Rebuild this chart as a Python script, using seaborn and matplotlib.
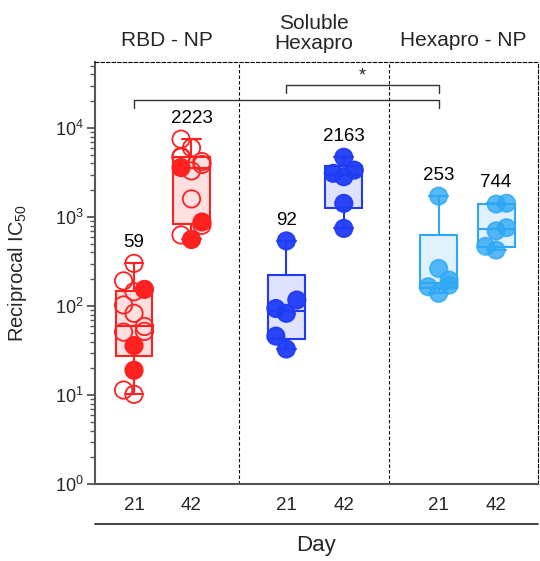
import numpy as np
import pandas as pd
import seaborn as sns
import matplotlib.pyplot as plt

# Valores (IC50 recíproco por animal)
groups = ['RBD - NP', 'Soluble\nHexapro', 'Hexapro - NP']
days = ['21', '42']
colors = ['#ff2020', '#1f3cf5', '#2ea8f5']

rbd_d21 = [302, 192, 154, 145, 103, 83, 59, 52, 51, 36, 19, 11.4, 10.2]
rbd_d21_filled = [0, 0, 1, 0, 0, 0, 0, 0, 0, 1, 1, 0, 0]
rbd_d42 = [7500, 6000, 4800, 4700, 4200, 3900, 3600, 3300, 1600, 880, 810, 630, 560]
rbd_d42_filled = [0, 0, 0, 0, 0, 0, 1, 0, 0, 1, 0, 0, 1]
sol_d21 = [540, 117, 94, 83, 46, 33]
sol_d42 = [4700, 3370, 3100, 2840, 1425, 746]
hex_d21 = [1720, 265, 196, 172, 165, 139]
hex_d42 = [1430, 1400, 760, 700, 470, 426]

gmt_labels = ['59', '2223', '92', '2163', '253', '744']

# Armar tabla larga
series = [
    (0, 0, rbd_d21, rbd_d21_filled),
    (0, 1, rbd_d42, rbd_d42_filled),
    (1, 0, sol_d21, [1] * len(sol_d21)),
    (1, 1, sol_d42, [1] * len(sol_d42)),
    (2, 0, hex_d21, [1] * len(hex_d21)),
    (2, 1, hex_d42, [1] * len(hex_d42)),
]
S = 2.2          # escala del eje x (ancho del swarm = 0.8 unidades)
group_gap = 2.65


def xpos(g, d):
    return (g * group_gap + d) * S


rows = []
for k, (g, d, vals, fills) in enumerate(series):
    for v, f in zip(vals, fills):
        rows.append({'set': k, 'group': g, 'day': days[d], 'pos': xpos(g, d),
                     'value': v, 'fill': 'filled' if f else 'open'})
df = pd.DataFrame(rows)

sns.set_theme(style='white')
plt.rcParams['font.family'] = ['Liberation Sans', 'DejaVu Sans']
plt.rcParams['mathtext.fontset'] = 'custom'
plt.rcParams['mathtext.rm'] = 'Liberation Sans'
plt.rcParams['mathtext.it'] = 'Liberation Sans:italic'

fig = plt.figure(figsize=(5.4, 5.61), dpi=100)
ax = fig.add_axes([0.176, 0.137, 0.82, 0.7525])
ax.set_yscale('log')

# Puntos (swarm) por columna
point_alpha = [1.0, 0.95, 0.8]
for k, (g, d, vals, fills) in enumerate(series):
    sub = df[df['set'] == k]
    sns.swarmplot(data=sub, x='pos', y='value', hue='fill',
                  hue_order=['filled', 'open'],
                  palette={'filled': colors[g], 'open': 'none'},
                  native_scale=True, log_scale=(False, True),
                  size=12.5, linewidth=1.3, edgecolor=colors[g],
                  alpha=point_alpha[g], legend=False, zorder=2,
                  warn_thresh=1, ax=ax)

# Cajas con cuartiles estilo Prism
for g, d, vals, fills in series:
    v = np.asarray(vals, float)
    q1, med, q3 = np.percentile(v, [25, 50, 75], method='weibull')
    stats = [dict(med=med, q1=q1, q3=q3, whislo=v.min(), whishi=v.max(), fliers=[])]
    c = colors[g]
    fc = list(plt.matplotlib.colors.to_rgba(c, 0.14))
    ax.bxp(stats, positions=[xpos(g, d)], widths=0.64 * S, capwidths=0.33 * S,
           patch_artist=True, showfliers=False, manage_ticks=False, zorder=3,
           boxprops=dict(facecolor=fc, edgecolor=c, linewidth=1.5),
           whiskerprops=dict(color=c, linewidth=1.5),
           capprops=dict(color=c, linewidth=1.5),
           medianprops=dict(color=c, linewidth=1.5))

# Etiquetas de media geométrica
for k, (g, d, vals, fills) in enumerate(series):
    ax.annotate(gmt_labels[k], (xpos(g, d), max(vals)), xytext=(0, 15),
                textcoords='offset points', ha='center', va='center', fontsize=13.5,
                color='black')

# Corchetes de significancia
bc = '#333333'
x0, x1, x2 = xpos(0, 0), xpos(1, 0), xpos(2, 0)
ax.plot([x0, x0, x2, x2],
        [10**4.225, 10**4.315, 10**4.315, 10**4.225], color=bc, lw=1, zorder=4)
ax.plot([x1, x1, x2, x2],
        [10**4.393, 10**4.483, 10**4.483, 10**4.393], color=bc, lw=1, zorder=4)
ax.text((x1 + x2) / 2, 10**4.585, '*', ha='center', va='center', fontsize=13)

# Separadores entre grupos
seps = [1.83 * S, 4.43 * S]
for s in seps:
    ax.axvline(s, color='black', lw=0.8, ls=(0, (3, 2)), zorder=1)

ax.set_xlim(-0.678 * S, 7.026 * S)
ax.set_ylim(1, 10**4.742)

# Ejes
for side in ['top', 'right']:
    ax.spines[side].set_linestyle((0, (3, 2)))
    ax.spines[side].set_linewidth(0.8)
    ax.spines[side].set_color('black')
for side in ['left', 'bottom']:
    ax.spines[side].set_linewidth(1.5)
    ax.spines[side].set_color('#555555')

ax.set_yticks([1, 10, 100, 1000, 10000])
ax.yaxis.set_minor_locator(plt.matplotlib.ticker.LogLocator(base=10, subs=np.arange(2, 10)))
ax.yaxis.set_minor_formatter(plt.matplotlib.ticker.NullFormatter())
ax.tick_params(axis='y', which='major', direction='out', length=6, width=1.3,
               color='#555555', labelsize=13, pad=2, left=True)
ax.tick_params(axis='y', which='minor', direction='out', length=3.5, width=1,
               color='#555555', left=True)

ax.set_xticks([xpos(g, d) for g in range(3) for d in range(2)])
ax.set_xticklabels(days * 3)
ax.tick_params(axis='x', length=0, labelsize=13.5, pad=9)
ax.set_xlabel('')
ax.set_ylabel(r'Reciprocal IC$_\mathregular{50}$', fontsize=14.5)
ax.yaxis.set_label_coords(-0.15, 0.5)

# Títulos de grupo
bounds = [ax.get_xlim()[0]] + seps + [ax.get_xlim()[1]]
for g in range(3):
    ax.text((bounds[g] + bounds[g + 1]) / 2, 1.052 if g != 1 else 1.067, groups[g],
            transform=ax.get_xaxis_transform(), ha='center', va='center',
            fontsize=15, linespacing=1.1)

# Línea y rótulo "Day"
ax.plot([0, 1], [-0.095, -0.095], transform=ax.transAxes, color='#333333',
        lw=1.3, clip_on=False)
ax.text(0.5, -0.145, 'Day', transform=ax.transAxes, ha='center', va='center',
        fontsize=16)

plt.savefig('out.png', dpi=100)
